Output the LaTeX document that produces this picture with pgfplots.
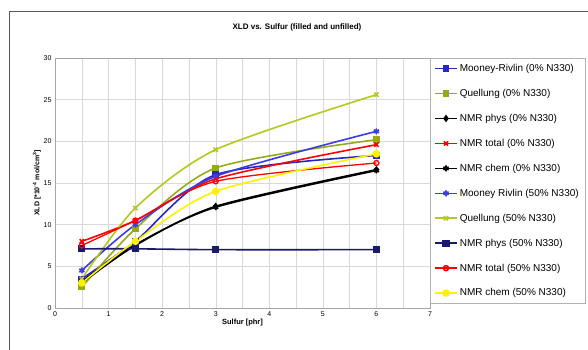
\documentclass[border=0pt]{standalone}
\usepackage{fontspec}
\setmainfont{Liberation Sans}
\usepackage{pgfplots}
\pgfplotsset{compat=1.18}
\usetikzlibrary{calc}
\definecolor{olive1}{RGB}{150,170,20}
\definecolor{olive2}{RGB}{180,200,30}
\definecolor{navy1}{RGB}{25,25,110}
\definecolor{blue1}{RGB}{40,40,190}
\definecolor{blue2}{RGB}{60,60,230}
\begin{document}
\begin{tikzpicture}[x=1pt,y=1pt]
\begin{axis}[
  scale only axis, width=375pt, height=250pt,
  xmin=0, xmax=7, ymin=0, ymax=30,
  xtick={0,...,7}, ytick={0,5,...,30},
  minor x tick num=1,
  grid=both,
  major grid style={gray!30},
  minor grid style={gray!30},
  axis line style={gray!70},
  major tick length=0pt, minor tick length=0pt,
  ticklabel style={font=\fontsize{7}{8}\selectfont},
  /pgf/number format/assume math mode=true,
  xlabel={\bfseries Sulfur [phr]},
  ylabel={\bfseries XLD [*10\textsuperscript{-4} mol/cm\textsuperscript{3}]},
  xlabel style={font=\fontsize{7.5}{8}\selectfont, yshift=4pt},
  ylabel style={font=\fontsize{7}{8}\selectfont, yshift=-4pt},
  legend style={at={(1.0,1.0)}, anchor=north west, draw=gray!60,
    font=\fontsize{10}{11}\selectfont, row sep=12.2pt, inner sep=4pt,
    legend cell align=left},
  legend image code/.code={\draw[#1, line width=1.6pt] (0pt,0pt) -- (22pt,0pt); \draw[#1, line width=1.6pt, mark repeat=2, mark phase=2] plot coordinates {(0pt,0pt) (11pt,0pt) (22pt,0pt)};},
  every axis plot/.append style={line width=1.6pt, smooth, tension=0.45},
]
\coordinate (O) at (rel axis cs:0,0);
\addplot[blue1, mark=square*, mark size=2.5pt] coordinates {(0.5,3.5) (1.5,8) (3,16) (6,18.3)};
\addlegendentry{Mooney-Rivlin (0\% N330)}
\addplot[olive1, mark=square*, mark size=2.5pt] coordinates {(0.5,2.5) (1.5,9.5) (3,16.8) (6,20.2)};
\addlegendentry{Quellung (0\% N330)}
\addplot[black, mark=diamond*, mark size=2.5pt] coordinates {(0.5,3) (1.5,7.5) (3,12.2) (6,16.6)};
\addlegendentry{NMR phys (0\% N330)}
\addplot[red, mark=x, mark size=3pt] coordinates {(0.5,8) (1.5,10.5) (3,15.5) (6,19.6)};
\addlegendentry{NMR total (0\% N330)}
\addplot[black, mark=asterisk, mark size=3pt] coordinates {(0.5,3.2) (1.5,7.6) (3,12.1) (6,16.5)};
\addlegendentry{NMR chem (0\% N330)}
\addplot[blue2, mark=asterisk, mark size=3pt] coordinates {(0.5,4.5) (1.5,10) (3,15.8) (6,21.2)};
\addlegendentry{Mooney Rivlin (50\% N330)}
\addplot[olive2, mark=x, mark size=3pt] coordinates {(0.5,3.5) (1.5,12) (3,19) (6,25.6)};
\addlegendentry{Quellung (50\% N330)}
\addplot[navy1, mark=square*, mark size=2.8pt] coordinates {(0.5,7.1) (1.5,7.1) (3,7) (6,7)};
\addlegendentry{NMR phys (50\% N330)}
\addplot[red, mark=o, mark size=2.5pt, line width=1.3pt] coordinates {(0.5,7.5) (1.5,10.5) (3,15.2) (6,17.4)};
\addlegendentry{NMR total (50\% N330)}
\addplot[yellow, mark=*, mark size=3pt] coordinates {(0.5,3) (1.5,8) (3,14) (6,18.5)};
\addlegendentry{NMR chem (50\% N330)}
\end{axis}
\node[font=\fontsize{8}{9}\selectfont\bfseries] at ($(O)+(242,281)$) {XLD vs. Sulfur (filled and unfilled)};
\draw[gray!70!black, line width=1pt] ($(O)+(-45,-50)$) -- ($(O)+(-45,296)$) -- ($(O)+(545,296)$);
\pgfresetboundingbox
\useasboundingbox ($(O)+(-55,-42)$) rectangle ($(O)+(533,308)$);
\end{tikzpicture}
\end{document}
